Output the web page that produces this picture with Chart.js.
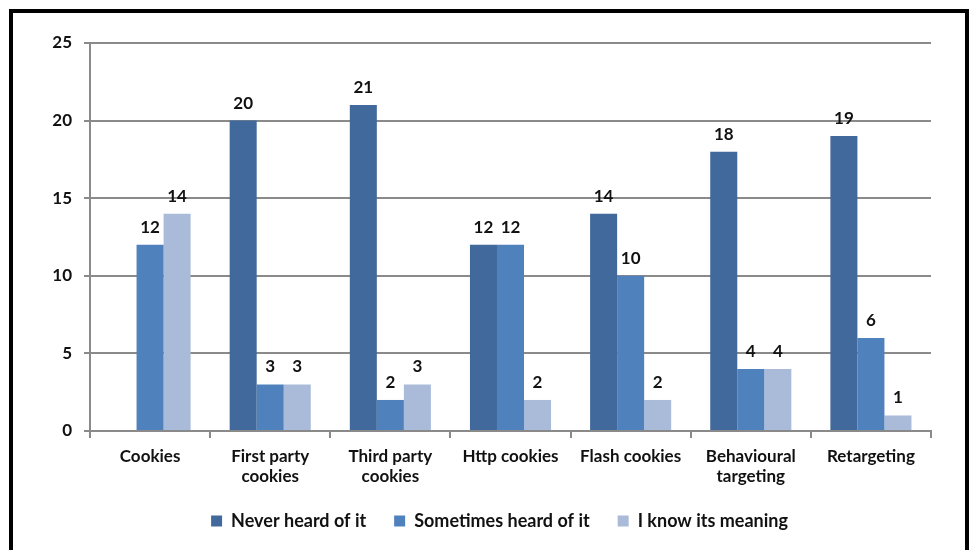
<!DOCTYPE html>
<html>
<head>
<meta charset="utf-8">
<script src="https://cdn.jsdelivr.net/npm/chart.js@4.4.0/dist/chart.umd.min.js"></script>
<style>
  html, body { margin: 0; padding: 0; background: #fff; overflow: hidden; }
  #frame {
    position: absolute; left: 9px; top: 9px;
    width: 952px; height: 600px;
    border: 4px solid #000;
  }
  #wrap { position: absolute; left: 0; top: 0; width: 971px; height: 550px; }
</style>
</head>
<body>
<div id="frame"></div>
<div id="wrap"><canvas id="chart" width="971" height="550"></canvas></div>
<script>
// категории и значения серий
const categories = [
  "Cookies",
  ["First party", "cookies"],
  ["Third party", "cookies"],
  "Http cookies",
  "Flash cookies",
  ["Behavioural", "targeting"],
  "Retargeting",
];
const neverHeard = [null, 20, 21, 12, 14, 18, 19];
const sometimesHeard = [12, 3, 2, 12, 10, 4, 6];
const knowMeaning = [14, 3, 3, 2, 2, 4, 1];
const yTicks = [0, 5, 10, 15, 20, 25];

const FONT = "Lato, 'Open Sans', sans-serif";

// подписи значений над столбиками
const valueLabels = {
  id: "valueLabels",
  afterDatasetsDraw(chart) {
    const ctx = chart.ctx;
    ctx.save();
    ctx.font = "bold 17px " + FONT;
    ctx.fillStyle = "#111";
    ctx.textAlign = "center";
    ctx.textBaseline = "bottom";
    chart.data.datasets.forEach((ds, i) => {
      const meta = chart.getDatasetMeta(i);
      meta.data.forEach((bar, j) => {
        const v = ds.data[j];
        if (v === null || v === undefined) return;
        ctx.fillText(String(v), bar.x, bar.y - 9);
      });
    });
    ctx.restore();
  },
};

// сдвигаем легенду чуть вправо и вверх, как в оригинале
const legendShift = {
  id: "legendShift",
  afterLayout(chart) {
    if (chart.legend) {
      chart.legend.left += 20;
      chart.legend.right += 20;
      chart.legend.top -= 9;
      chart.legend.bottom -= 9;
    }
  },
};

new Chart(document.getElementById("chart"), {
  type: "bar",
  data: {
    labels: categories,
    datasets: [
      { label: "Never heard of it", data: neverHeard, backgroundColor: "#41699C" },
      { label: "Sometimes heard of it", data: sometimesHeard, backgroundColor: "#4F81BD" },
      { label: "I know its meaning", data: knowMeaning, backgroundColor: "#AABBDA" },
    ],
  },
  options: {
    responsive: false,
    animation: false,
    devicePixelRatio: 1,
    datasets: { bar: { categoryPercentage: 0.675, barPercentage: 1 } },
    layout: { padding: { left: 28, right: 40, top: 43, bottom: 1 } },
    scales: {
      x: {
        grid: {
          offset: true,
          drawOnChartArea: false,
          tickLength: 7,
          color: "#8a8a8a",
          lineWidth: 2,
        },
        border: { color: "#8a8a8a", width: 2 },
        ticks: {
          color: "#111",
          font: { family: FONT, size: 17, weight: "bold" },
          maxRotation: 0,
          padding: 8,
        },
        afterFit(axis) { axis.height = 62; },
      },
      y: {
        min: 0,
        max: 25,
        afterBuildTicks(axis) { axis.ticks = yTicks.map((v) => ({ value: v })); },
        grid: { color: "#8a8a8a", lineWidth: 2, tickLength: 6 },
        border: { color: "#8a8a8a", width: 2 },
        ticks: {
          color: "#111",
          font: { family: FONT, size: 17, weight: "bold" },
          padding: 12,
        },
        afterFit(axis) { axis.width = 62; },
      },
    },
    plugins: {
      legend: {
        position: "bottom",
        labels: {
          color: "#111",
          font: { family: FONT, size: 18, weight: "bold" },
          boxWidth: 11,
          boxHeight: 11,
          padding: 28,
        },
      },
      tooltip: { enabled: false },
    },
  },
  plugins: [valueLabels, legendShift],
});
</script>
</body>
</html>
